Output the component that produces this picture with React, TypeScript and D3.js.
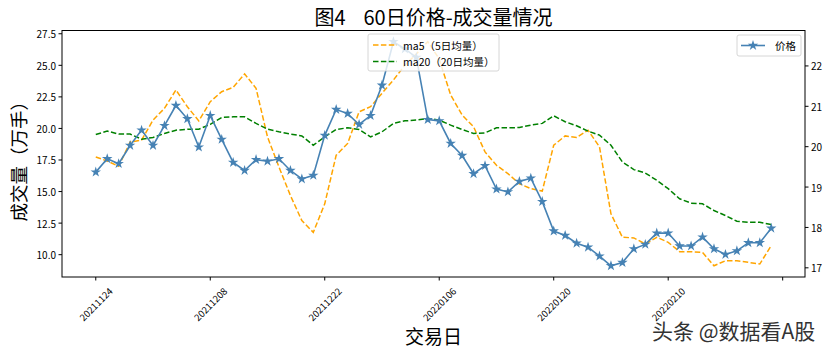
import { useRef, useEffect } from "react";
import * as d3 from "d3";

const W = 832;
const H = 353;
const margin = { top: 30.5, right: 27, bottom: 76, left: 62 };
const FONT = "'Noto Sans CJK SC', 'Noto Sans', sans-serif";

const dates = [
  "20211124", "20211125", "20211126", "20211129", "20211130",
  "20211201", "20211202", "20211203", "20211206", "20211207",
  "20211208", "20211209", "20211210", "20211213", "20211214",
  "20211215", "20211216", "20211217", "20211220", "20211221",
  "20211222", "20211223", "20211224", "20211227", "20211228",
  "20211229", "20211230", "20211231", "20220104", "20220105",
  "20220106", "20220107", "20220110", "20220111", "20220112",
  "20220113", "20220114", "20220117", "20220118", "20220119",
  "20220120", "20220121", "20220124", "20220125", "20220126",
  "20220127", "20220128", "20220207", "20220208", "20220209",
  "20220210", "20220211", "20220214", "20220215", "20220216",
  "20220217", "20220218", "20220221", "20220222", "20220223",
];

// 价格 (right axis)
const price = [
  19.37, 19.70, 19.58, 20.03, 20.41, 20.03, 20.52, 21.02, 20.69, 19.99,
  20.77, 20.18, 19.61, 19.41, 19.68, 19.64, 19.70, 19.41, 19.20, 19.29,
  20.28, 20.92, 20.82, 20.55, 20.77, 21.52, 22.60, 22.42, 22.21, 20.67,
  20.64, 20.08, 19.78, 19.33, 19.53, 18.95, 18.88, 19.14, 19.22, 18.64,
  17.91, 17.80, 17.61, 17.51, 17.29, 17.05, 17.13, 17.47, 17.58, 17.86,
  17.86, 17.54, 17.54, 17.76, 17.47, 17.33, 17.42, 17.62, 17.62, 17.98,
];

// ma5 (5日均量)
const ma5 = [
  17.74, 17.42, 17.00, 18.93, 19.07, 20.66, 21.59, 23.05, 21.72, 20.60,
  22.12, 22.91, 23.26, 24.32, 23.18, 19.33, 16.95, 14.69, 12.70, 11.77,
  14.03, 17.88, 18.81, 21.32, 21.72, 22.78, 23.84, 25.00, 25.90, 26.87,
  25.50, 22.65, 21.06, 20.13, 18.14, 17.08, 16.42, 15.62, 15.23, 15.04,
  18.67, 19.41, 19.28, 19.86, 18.54, 13.24, 11.38, 11.33, 10.85, 11.38,
  10.98, 10.24, 10.24, 10.18, 9.12, 9.52, 9.52, 9.39, 9.26, 10.72,
];

// ma20 (20日均量)
const ma20 = [
  19.52, 19.79, 19.55, 19.55, 19.15, 19.28, 19.60, 19.86, 19.94, 19.94,
  20.32, 20.87, 20.92, 20.92, 20.40, 19.94, 19.73, 19.55, 19.41, 18.67,
  19.33, 19.92, 20.05, 19.92, 19.33, 19.73, 20.40, 20.60, 20.66, 20.80,
  20.66, 20.26, 19.92, 19.60, 19.65, 20.05, 20.05, 20.07, 20.26, 20.40,
  21.00, 20.53, 20.21, 19.79, 19.47, 18.67, 17.34, 16.74, 16.47, 15.89,
  15.23, 14.43, 14.08, 14.03, 13.50, 13.10, 12.65, 12.57, 12.57, 12.39,
];

const leftTicks = [10, 12.5, 15, 17.5, 20, 22.5, 25, 27.5];
const rightTicks = [17, 18, 19, 20, 21, 22];
const xTicks = [0, 10, 20, 30, 40, 50, 60];

function pad(lo: number, hi: number): [number, number] {
  const m = (hi - lo) * 0.05;
  return [lo - m, hi + m];
}

function App() {
  const svgRef = useRef<SVGSVGElement>(null);

  useEffect(() => {
    const svg = d3.select(svgRef.current);
    svg.selectAll("*").remove();

    const x0 = margin.left;
    const x1 = 805; // plot right edge
    const y0 = margin.top;
    const y1 = H - margin.bottom;

    const n = price.length;
    const x = d3.scaleLinear().domain(pad(0, n - 1)).range([x0, x1]);
    const vol = [...ma5, ...ma20];
    const yL = d3.scaleLinear().domain(pad(d3.min(vol)!, d3.max(vol)!)).range([y1, y0]);
    const yR = d3.scaleLinear().domain(pad(d3.min(price)!, d3.max(price)!)).range([y1, y0]);

    svg.append("rect").attr("width", W).attr("height", H).attr("fill", "white");

    // title
    svg.append("text")
      .attr("x", (x0 + x1) / 2)
      .attr("y", 24.5)
      .attr("text-anchor", "middle")
      .style("font-family", FONT)
      .style("font-size", "20px")
      .style("white-space", "pre")
      .text("图4    60日价格-成交量情况");

    const g = svg.append("g");

    // volume MA lines
    const lineL = d3.line<number>().x((_, i) => x(i)).y((d) => yL(d));
    g.append("path")
      .attr("d", lineL(ma5))
      .attr("fill", "none")
      .attr("stroke", "orange")
      .attr("stroke-width", 1.5)
      .attr("stroke-dasharray", "5.5,2.4");
    g.append("path")
      .attr("d", lineL(ma20))
      .attr("fill", "none")
      .attr("stroke", "green")
      .attr("stroke-width", 1.5)
      .attr("stroke-dasharray", "5.5,2.4");

    // price line with stars
    const lineR = d3.line<number>().x((_, i) => x(i)).y((d) => yR(d));
    g.append("path")
      .attr("d", lineR(price))
      .attr("fill", "none")
      .attr("stroke", "steelblue")
      .attr("stroke-width", 1.6);
    const star = d3.symbol().type(d3.symbolStar).size(34);
    g.selectAll(".star")
      .data(price)
      .join("path")
      .attr("class", "star")
      .attr("transform", (d, i) => `translate(${x(i)},${yR(d)})`)
      .attr("d", star)
      .attr("fill", "steelblue");

    // frame
    svg.append("rect")
      .attr("x", x0).attr("y", y0)
      .attr("width", x1 - x0).attr("height", y1 - y0)
      .attr("fill", "none").attr("stroke", "black").attr("stroke-width", 1);

    // left ticks
    const lt = svg.append("g");
    leftTicks.forEach((t) => {
      lt.append("line").attr("x1", x0 - 3.5).attr("x2", x0)
        .attr("y1", yL(t)).attr("y2", yL(t)).attr("stroke", "black");
      lt.append("text").attr("x", x0 - 6).attr("y", yL(t))
        .attr("text-anchor", "end").attr("dominant-baseline", "central")
        .style("font-family", FONT).style("font-size", "10px")
        .text(t.toFixed(1));
    });

    // right ticks
    const rt = svg.append("g");
    rightTicks.forEach((t) => {
      rt.append("line").attr("x1", x1).attr("x2", x1 + 3.5)
        .attr("y1", yR(t)).attr("y2", yR(t)).attr("stroke", "black");
      rt.append("text").attr("x", x1 + 6).attr("y", yR(t))
        .attr("text-anchor", "start").attr("dominant-baseline", "central")
        .style("font-family", FONT).style("font-size", "10px")
        .text(t);
    });

    // x ticks
    const xt = svg.append("g");
    xTicks.forEach((t) => {
      xt.append("line").attr("x1", x(t)).attr("x2", x(t))
        .attr("y1", y1).attr("y2", y1 + 3.5).attr("stroke", "black");
      if (dates[t]) {
        xt.append("text")
          .attr("transform", `translate(${x(t)},${y1 + 27}) rotate(-45)`)
          .attr("text-anchor", "middle").attr("dominant-baseline", "central")
          .style("font-family", FONT).style("font-size", "9.5px")
          .text(dates[t]);
      }
    });

    // axis labels
    svg.append("text")
      .attr("transform", `translate(18,${(y0 + y1) / 2 + 3}) rotate(-90)`)
      .attr("text-anchor", "middle").attr("dominant-baseline", "central")
      .style("font-family", FONT).style("font-size", "18.5px")
      .text("成交量（万手）");
    svg.append("text")
      .attr("x", (x0 + x1) / 2).attr("y", 344)
      .attr("text-anchor", "middle")
      .style("font-family", FONT).style("font-size", "19px")
      .text("交易日");

    // legend: volume MAs
    const lg = svg.append("g");
    lg.append("rect").attr("x", 368).attr("y", 34).attr("width", 131).attr("height", 37)
      .attr("rx", 2).attr("fill", "white").attr("fill-opacity", 0.8)
      .attr("stroke", "#cccccc").attr("stroke-width", 0.8);
    [
      { label: "ma5（5日均量）", color: "orange" },
      { label: "ma20（20日均量）", color: "green" },
    ].forEach((d, i) => {
      const yy = 45 + i * 16.5;
      lg.append("line").attr("x1", 373).attr("x2", 397).attr("y1", yy).attr("y2", yy)
        .attr("stroke", d.color).attr("stroke-width", 1.5).attr("stroke-dasharray", "5.5,2.4");
      lg.append("text").attr("x", 403).attr("y", yy).attr("dominant-baseline", "central")
        .style("font-family", FONT).style("font-size", "10.5px").text(d.label);
    });

    // legend: price
    const lp = svg.append("g");
    lp.append("rect").attr("x", 737).attr("y", 35).attr("width", 64).attr("height", 21)
      .attr("rx", 2).attr("fill", "white").attr("fill-opacity", 0.8)
      .attr("stroke", "#cccccc").attr("stroke-width", 0.8);
    lp.append("line").attr("x1", 741).attr("x2", 765).attr("y1", 45.5).attr("y2", 45.5)
      .attr("stroke", "steelblue").attr("stroke-width", 1.6);
    lp.append("path").attr("transform", "translate(753,45.5)").attr("d", star).attr("fill", "steelblue");
    lp.append("text").attr("x", 775).attr("y", 45.5).attr("dominant-baseline", "central")
      .style("font-family", FONT).style("font-size", "10.5px").text("价格");

    // watermark
    svg.append("text")
      .attr("x", 652).attr("y", 339)
      .style("font-family", FONT).style("font-size", "21px")
      .attr("fill", "#333333")
      .text("头条 @数据看A股");
  }, []);

  return (
    <svg
      ref={svgRef}
      width={W}
      height={H}
      style={{ position: "absolute", left: 0, top: 0 }}
    />
  );
}

export default App;
